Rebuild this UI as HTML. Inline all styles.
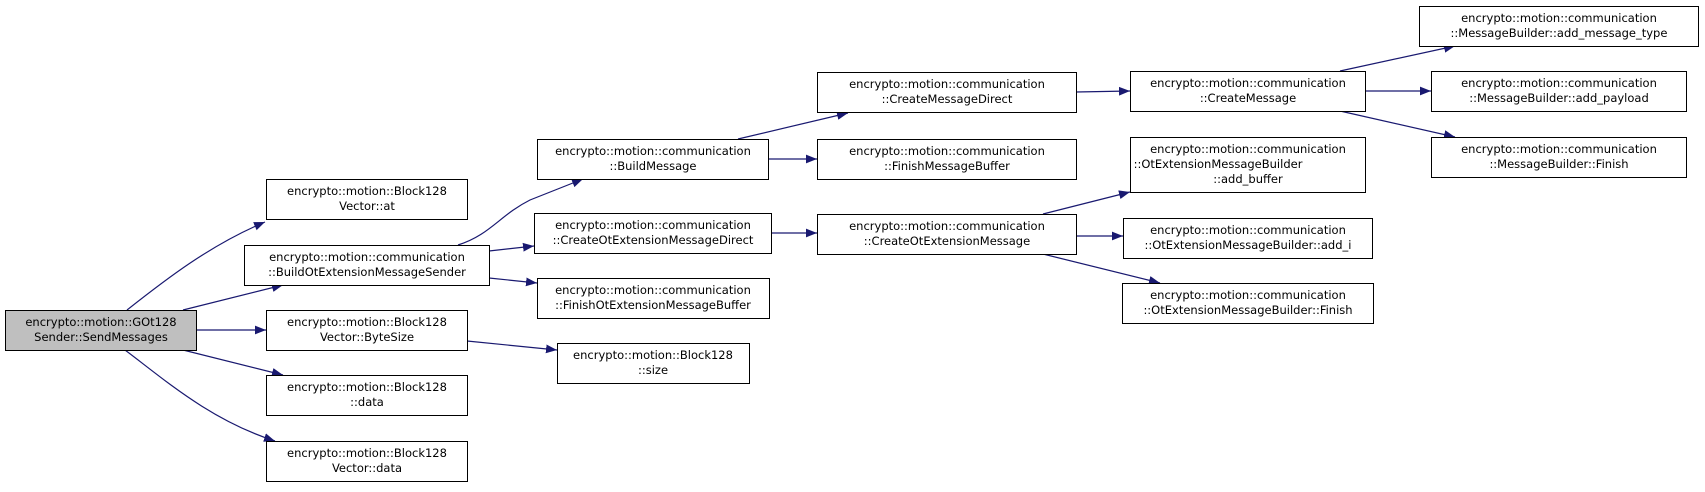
<!DOCTYPE html>
<html><head><meta charset="utf-8"><style>
body{margin:0;background:#fff}
svg text{font-family:"DejaVu Sans","Liberation Sans",sans-serif;font-size:11.5px;fill:#000}
</style></head><body>
<svg width="1705" height="487" viewBox="0 0 1705 487" xmlns="http://www.w3.org/2000/svg">
<defs><marker id="a" viewBox="0 0 10 10" refX="10" refY="5" markerWidth="11" markerHeight="11" markerUnits="userSpaceOnUse" orient="auto"><path d="M0,1 L10,5 L0,9 z" fill="#191970"/></marker></defs>
<g fill="none" stroke="#191970" stroke-width="1.2" marker-end="url(#a)">
<path d="M127,310 C165,280 210,245 265,222"/>
<path d="M183,310 L283,285"/>
<path d="M196,330 L266,330"/>
<path d="M183,350 L283,375"/>
<path d="M125,350 C165,380 210,420 275,441"/>
<path d="M458,245 C490,235 500,215 530,200 L583,179"/>
<path d="M489,251 L534,246"/>
<path d="M489,278 L537,283"/>
<path d="M467,341 L557,350"/>
<path d="M738,139 L848,113"/>
<path d="M768,159 L817,159"/>
<path d="M771,233 L817,233"/>
<path d="M1076,92 L1130,91"/>
<path d="M1043,214 L1130,192"/>
<path d="M1076,236 L1123,236"/>
<path d="M1043,254 L1160,283"/>
<path d="M1340,71 L1455,46"/>
<path d="M1365,91 L1431,91"/>
<path d="M1340,111 L1455,137"/>
</g>
<g stroke="#000" stroke-width="1">
<rect x="5.5" y="310.5" width="191" height="40" fill="#bfbfbf"/>
<rect x="266.5" y="179.5" width="201" height="40" fill="#fff"/>
<rect x="244.5" y="245.5" width="245" height="40" fill="#fff"/>
<rect x="266.5" y="310.5" width="201" height="40" fill="#fff"/>
<rect x="266.5" y="375.5" width="201" height="40" fill="#fff"/>
<rect x="266.5" y="441.5" width="201" height="40" fill="#fff"/>
<rect x="537.5" y="139.5" width="231" height="40" fill="#fff"/>
<rect x="534.5" y="213.5" width="237" height="40" fill="#fff"/>
<rect x="537.5" y="278.5" width="232" height="40" fill="#fff"/>
<rect x="557.5" y="343.5" width="192" height="40" fill="#fff"/>
<rect x="817.5" y="72.5" width="259" height="40" fill="#fff"/>
<rect x="817.5" y="139.5" width="259" height="40" fill="#fff"/>
<rect x="817.5" y="214.5" width="259" height="40" fill="#fff"/>
<rect x="1130.5" y="71.5" width="235" height="40" fill="#fff"/>
<rect x="1130.5" y="137.5" width="235" height="55" fill="#fff"/>
<rect x="1123.5" y="218.5" width="249" height="40" fill="#fff"/>
<rect x="1122.5" y="283.5" width="251" height="40" fill="#fff"/>
<rect x="1419.5" y="6.5" width="279" height="40" fill="#fff"/>
<rect x="1431.5" y="71.5" width="255" height="40" fill="#fff"/>
<rect x="1431.5" y="137.5" width="255" height="40" fill="#fff"/>
</g>
<g text-anchor="middle">
<text x="101" y="326">encrypto::motion::GOt128</text><text x="101" y="341">Sender::SendMessages</text>
<text x="367" y="195">encrypto::motion::Block128</text><text x="367" y="210">Vector::at</text>
<text x="367" y="261">encrypto::motion::communication</text><text x="367" y="276">::BuildOtExtensionMessageSender</text>
<text x="367" y="326">encrypto::motion::Block128</text><text x="367" y="341">Vector::ByteSize</text>
<text x="367" y="391">encrypto::motion::Block128</text><text x="367" y="406">::data</text>
<text x="367" y="457">encrypto::motion::Block128</text><text x="367" y="472">Vector::data</text>
<text x="653" y="155">encrypto::motion::communication</text><text x="653" y="170">::BuildMessage</text>
<text x="653" y="229">encrypto::motion::communication</text><text x="653" y="244">::CreateOtExtensionMessageDirect</text>
<text x="653" y="294">encrypto::motion::communication</text><text x="653" y="309">::FinishOtExtensionMessageBuffer</text>
<text x="653" y="359">encrypto::motion::Block128</text><text x="653" y="374">::size</text>
<text x="947" y="88">encrypto::motion::communication</text><text x="947" y="103">::CreateMessageDirect</text>
<text x="947" y="155">encrypto::motion::communication</text><text x="947" y="170">::FinishMessageBuffer</text>
<text x="947" y="230">encrypto::motion::communication</text><text x="947" y="245">::CreateOtExtensionMessage</text>
<text x="1248" y="87">encrypto::motion::communication</text><text x="1248" y="102">::CreateMessage</text>
<text x="1248" y="153">encrypto::motion::communication</text><text x="1218" y="168">::OtExtensionMessageBuilder</text><text x="1248" y="183">::add_buffer</text>
<text x="1248" y="234">encrypto::motion::communication</text><text x="1248" y="249">::OtExtensionMessageBuilder::add_i</text>
<text x="1248" y="299">encrypto::motion::communication</text><text x="1248" y="314">::OtExtensionMessageBuilder::Finish</text>
<text x="1559" y="22">encrypto::motion::communication</text><text x="1559" y="37">::MessageBuilder::add_message_type</text>
<text x="1559" y="87">encrypto::motion::communication</text><text x="1559" y="102">::MessageBuilder::add_payload</text>
<text x="1559" y="153">encrypto::motion::communication</text><text x="1559" y="168">::MessageBuilder::Finish</text>
</g>
</svg>
</body></html>
